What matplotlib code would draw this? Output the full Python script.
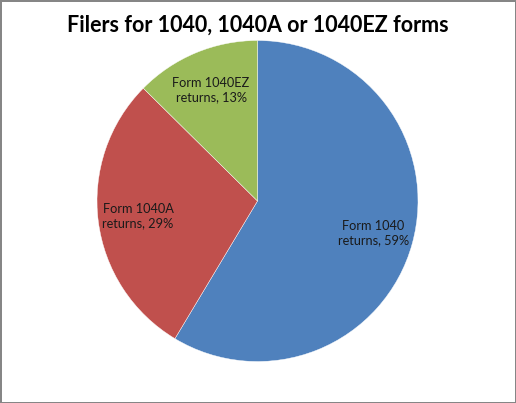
import matplotlib
matplotlib.use("Agg")
import matplotlib.pyplot as plt

plt.rcParams["font.family"] = ["Lato", "DejaVu Sans"]

# 数据
names = ["Form 1040", "Form 1040A", "Form 1040EZ"]
shares = [58.6, 28.8, 12.6]
colors = ["#4F81BD", "#C0504D", "#9BBB59"]
title = "Filers for 1040, 1040A or 1040EZ forms"

labels = [f"{n}\nreturns, {round(s)}%" for n, s in zip(names, shares)]

fig = plt.figure(figsize=(5.16, 4.03), dpi=100, linewidth=1.0, edgecolor="#868686")
fig.patch.set_facecolor("white")

ax = fig.add_axes([97 / 516, 41.5 / 403, 321 / 516, 321 / 403])
wedges, texts = ax.pie(shares, colors=colors, labels=labels, startangle=90,
                       counterclock=False, labeldistance=0.75,
                       wedgeprops=dict(edgecolor="white", linewidth=0.3),
                       textprops=dict(fontsize=9.2, color="#1a1a1a", linespacing=1.25))
for t in texts:
    t.set_ha("center")
    t.set_va("center")
ax.set_xlim(-1, 1)
ax.set_ylim(-1, 1)
ax.set_aspect("equal")

fig.text(0.5, 1 - 25 / 403, title, ha="center", va="center",
         fontsize=15.5, fontweight="bold", color="black")

fig.savefig("out.png", dpi=100, facecolor="white", edgecolor=fig.get_edgecolor())
